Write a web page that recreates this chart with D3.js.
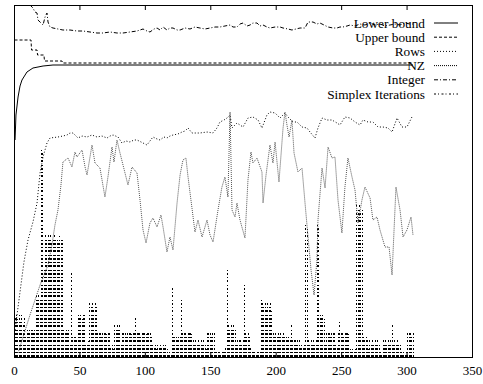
<!DOCTYPE html>
<html>
<head>
<meta charset="utf-8">
<script src="https://cdn.jsdelivr.net/npm/d3@7"></script>
<style>
  body { margin: 0; background: #fff; }
  svg { display: block; font-family: "Liberation Serif", "DejaVu Serif", serif; }
</style>
</head>
<body>
<svg id="main-svg" width="483" height="384"></svg>
<script>
// x ticks along the bottom
const xTicks = [0, 50, 100, 150, 200, 250, 300, 350];

// series as [node, level] pairs (no y scale is printed on the chart)
const lowerBound = [
    [0.8, 217], [1.5, 242], [3.1, 260], [4.6, 271], [6.1, 277], [9.9, 285], [14.5, 289],
    [22.2, 291], [29.8, 292], [40.5, 292], [81, 292], [142, 292], [218.6, 292], [304.9, 292]
];

const upperBound = [
    [0.4, 317], [13.0, 317], [13.4, 307], [17.6, 307], [18.0, 302], [22.9, 302],
    [23.3, 296], [36.7, 296], [37.1, 294], [304.9, 294]
];

const rows = [
    [0.8, 27], [2.3, 42], [4.6, 65], [7.6, 95], [10.7, 117], [14.5, 135], [17.6, 154],
    [19.9, 184], [22.2, 200], [25.2, 214], [27.5, 219], [33.6, 220], [37.4, 221], [40.5, 222],
    [42.8, 224], [45.1, 224], [48.9, 219], [52.0, 221], [55.8, 220], [59.6, 222], [63.4, 220],
    [67.2, 221], [71.1, 219], [73.4, 221], [75.7, 222], [79.5, 220], [82.5, 214], [85.6, 216],
    [88.6, 215], [91.7, 217], [94.0, 217], [97.1, 215], [101.6, 212], [103.9, 216], [106.2, 220],
    [109.3, 218], [111.6, 217], [114.6, 220], [116.9, 219], [119.2, 221], [121.5, 222],
    [125.3, 223], [128.4, 225], [130.7, 226], [133.0, 229], [136.0, 224], [139.1, 224],
    [142.1, 224], [147.5, 225], [152.1, 224], [155.1, 229], [157.4, 235], [160.5, 237],
    [162.8, 239], [165.1, 242], [166.6, 229], [170.4, 234], [175.0, 230], [178.8, 239],
    [182.6, 240], [186.5, 237], [189.5, 229], [193.3, 242], [195.6, 245], [199.5, 244],
    [203.3, 239], [207.1, 244], [209.4, 240], [213.2, 235], [216.3, 235], [220.1, 230],
    [223.9, 229], [226.2, 225], [230.0, 219], [232.3, 229], [235.4, 239], [239.2, 237],
    [243.0, 237], [246.8, 234], [249.1, 232], [252.9, 240], [256.8, 239], [260.6, 235],
    [264.4, 232], [266.7, 237], [270.5, 235], [274.3, 235], [278.2, 230], [282.0, 230],
    [285.8, 229], [288.9, 225], [292.7, 239], [296.5, 230], [300.3, 230], [304.1, 240]
];

const nz = [
    [3.1, 4], [12.2, 42], [19.9, 72], [26.0, 92], [29.0, 112], [31.3, 132], [33.6, 147],
    [35.9, 172], [37.4, 195], [41.3, 199], [44.3, 190], [46.6, 205], [48.1, 200], [52.0, 207],
    [54.3, 190], [55.8, 182], [59.6, 212], [61.9, 194], [65.7, 189], [69.5, 160], [71.8, 180],
    [74.9, 210], [76.4, 195], [78.7, 217], [81.0, 204], [83.3, 192], [87.1, 172], [90.2, 190],
    [94.0, 184], [96.3, 157], [98.6, 127], [100.9, 114], [103.9, 134], [106.2, 139],
    [109.3, 130], [112.3, 142], [113.9, 130], [116.9, 105], [119.2, 120], [121.5, 107],
    [124.6, 154], [126.9, 182], [129.1, 197], [131.4, 199], [133.0, 180], [136.0, 149],
    [138.3, 125], [140.6, 137], [143.7, 120], [147.5, 137], [149.8, 122], [152.1, 115],
    [155.9, 147], [158.9, 170], [161.2, 180], [163.5, 160], [165.1, 245], [166.6, 147],
    [168.9, 140], [170.4, 154], [172.7, 137], [176.5, 119], [178.8, 177], [181.1, 205],
    [182.6, 194], [185.7, 199], [189.5, 185], [190.3, 154], [192.6, 182], [195.6, 212],
    [197.9, 194], [199.5, 215], [202.5, 175], [205.6, 229], [207.1, 245], [208.6, 232],
    [210.2, 220], [212.4, 237], [214.0, 204], [217.0, 185], [220.1, 189], [222.4, 154],
    [224.7, 120], [227.0, 87], [229.3, 62], [231.5, 97], [232.3, 137], [235.4, 189],
    [237.7, 169], [240.0, 210], [243.0, 199], [245.3, 200], [247.6, 157], [250.6, 124],
    [252.9, 170], [255.2, 199], [258.3, 180], [260.6, 167], [262.9, 134], [265.9, 157],
    [268.2, 170], [272.1, 159], [274.3, 137], [277.4, 140], [279.7, 127], [283.5, 110],
    [286.6, 110], [288.9, 82], [291.9, 170], [295.0, 147], [297.3, 120], [300.3, 127],
    [303.4, 140], [304.9, 122]
];

const integer = [
    [9.2, 360], [10.7, 354], [12.2, 352], [14.5, 349], [16.0, 345], [17.6, 344], [18.3, 337],
    [19.9, 335], [22.2, 332], [23.7, 340], [25.2, 344], [26.0, 335], [27.5, 330], [29.8, 329],
    [33.6, 328], [37.4, 327], [42.8, 327], [48.1, 326], [52.7, 326], [58.1, 325], [63.4, 324],
    [68.0, 324], [73.4, 325], [78.7, 324], [83.3, 324], [88.6, 325], [94.0, 326], [98.6, 328],
    [101.6, 326], [103.9, 325], [107.0, 328], [109.3, 329], [111.6, 327], [113.9, 330],
    [116.9, 327], [119.2, 329], [121.5, 329], [124.6, 327], [126.9, 327], [130.7, 329],
    [134.5, 328], [138.3, 330], [142.1, 329], [146.0, 328], [149.8, 329], [153.6, 330],
    [157.4, 330], [161.2, 331], [165.1, 332], [167.4, 330], [170.4, 330], [172.7, 333],
    [175.0, 334], [178.1, 331], [180.4, 332], [182.6, 334], [185.7, 334], [188.0, 331],
    [190.3, 332], [193.3, 330], [195.6, 329], [199.5, 330], [203.3, 330], [205.6, 329],
    [209.4, 328], [212.4, 327], [215.5, 328], [218.6, 329], [222.4, 329], [224.7, 335],
    [228.5, 335], [231.5, 333], [233.8, 334], [236.9, 332], [240.0, 330], [243.8, 329],
    [246.8, 329], [249.1, 330], [251.4, 330], [254.5, 331], [256.8, 332], [260.6, 331],
    [264.4, 333], [268.2, 332], [272.1, 334], [275.9, 332], [279.7, 333], [283.5, 331],
    [287.3, 332], [291.2, 333], [295.0, 332], [298.8, 334], [302.6, 333], [304.9, 333]
];

// simplex iterations per node, index = node 0..305
const simplexIter = [
    10, 40, 44, 38, 42, 36, 44, 34, 40, 20,
    28, 26, 28, 30, 28, 24, 28, 62, 58, 64,
    60, 209, 205, 90, 122, 118, 124, 120, 122, 116,
    119, 122, 118, 120, 116, 121, 119, 120, 27, 25,
    28, 24, 27, 12, 84, 22, 20, 22, 18, 44,
    40, 44, 38, 44, 42, 15, 12, 16, 54, 50,
    54, 48, 54, 52, 25, 24, 26, 22, 25, 24,
    26, 23, 25, 24, 10, 12, 8, 34, 30, 34,
    28, 32, 15, 25, 24, 26, 22, 25, 24, 26,
    23, 25, 24, 40, 25, 24, 26, 22, 25, 24,
    26, 23, 25, 24, 26, 22, 12, 10, 12, 8,
    12, 10, 12, 9, 12, 10, 12, 8, 4, 6,
    4, 69, 22, 20, 22, 18, 22, 20, 60, 25,
    24, 26, 22, 25, 24, 26, 23, 17, 15, 17,
    14, 17, 15, 17, 14, 17, 15, 8, 26, 24,
    26, 22, 26, 24, 6, 7, 5, 7, 4, 7,
    5, 7, 10, 89, 34, 30, 34, 28, 34, 30,
    12, 19, 17, 19, 15, 19, 72, 25, 22, 25,
    20, 10, 7, 5, 7, 4, 7, 5, 7, 59,
    54, 50, 54, 48, 54, 50, 54, 46, 24, 22,
    24, 20, 24, 22, 24, 20, 24, 22, 20, 18,
    20, 17, 34, 19, 17, 19, 15, 19, 17, 10,
    12, 10, 12, 132, 128, 17, 15, 17, 14, 17,
    15, 17, 134, 130, 44, 40, 44, 38, 15, 25,
    24, 26, 22, 25, 24, 26, 12, 10, 25, 37,
    24, 25, 22, 25, 24, 26, 23, 8, 6, 8,
    5, 8, 152, 148, 152, 145, 150, 20, 18, 20,
    17, 8, 17, 15, 17, 14, 17, 15, 17, 14,
    6, 4, 17, 15, 17, 14, 17, 15, 17, 34,
    14, 17, 15, 17, 14, 15, 5, 4, 5, 3,
    5, 25, 24, 26, 22, 25
];

const legendLabels = ['Lower bound', 'Upper bound', 'Rows', 'NZ', 'Integer', 'Simplex Iterations'];
const legendDash = ['none', '3,2', '1,2', '1,1', '4,2,1,2', '2,2,1,2.5'];

const svg = d3.select('#main-svg');
const plotLeft = 14, plotRight = 472, plotTop = 5, plotBottom = 357;

const x = d3.scaleLinear().domain([0, 350]).range([plotLeft, plotRight]);
const y = d3.scaleLinear().domain([0, 352]).range([plotBottom, plotTop]);

svg.append('clipPath')
    .attr('id', 'plot-clip')
    .append('rect')
    .attr('x', plotLeft)
    .attr('y', plotTop)
    .attr('width', plotRight - plotLeft)
    .attr('height', plotBottom - plotTop);

const plot = svg.append('g').attr('clip-path', 'url(#plot-clip)');

// impulses for simplex iterations, drawn bottom up so dashes line up
plot.selectAll('.impulse')
    .data(simplexIter)
    .enter()
    .append('line')
    .attr('class', 'impulse')
    .attr('x1', (d, i) => x(i))
    .attr('x2', (d, i) => x(i))
    .attr('y1', y(0))
    .attr('y2', d => y(d))
    .attr('stroke', '#000')
    .attr('stroke-width', 1)
    .attr('shape-rendering', 'crispEdges')
    .attr('stroke-dasharray', legendDash[5]);

const line = d3.line().x(d => x(d[0])).y(d => y(d[1]));

const series = [
    { data: lowerBound, dash: legendDash[0], color: '#000' },
    { data: upperBound, dash: legendDash[1], color: '#000' },
    { data: rows, dash: legendDash[2], color: '#000' },
    { data: nz, dash: legendDash[3], color: '#555' },
    { data: integer, dash: legendDash[4], color: '#000' }
];

plot.selectAll('.series')
    .data(series)
    .enter()
    .append('path')
    .attr('class', 'series')
    .attr('d', d => line(d.data))
    .attr('fill', 'none')
    .attr('stroke', d => d.color)
    .attr('stroke-width', 1)
    .attr('stroke-dasharray', d => d.dash);

// axes: ticks pointing inward, labels only at the bottom
const xAxis = svg.append('g')
    .attr('transform', `translate(0, ${plotBottom})`)
    .call(d3.axisBottom(x).tickValues(xTicks).tickSize(-5).tickPadding(9));
xAxis.select('.domain').remove();
xAxis.selectAll('text')
    .attr('font-size', 13)
    .attr('font-family', '"Liberation Serif", serif')
    .attr('fill', '#000');

const topAxis = svg.append('g')
    .attr('transform', `translate(0, ${plotTop})`)
    .call(d3.axisTop(x).tickValues(xTicks).tickSize(-5).tickFormat(''));
topAxis.select('.domain').remove();

svg.append('rect')
    .attr('x', plotLeft)
    .attr('y', plotTop)
    .attr('width', plotRight - plotLeft)
    .attr('height', plotBottom - plotTop)
    .attr('fill', 'none')
    .attr('stroke', '#000')
    .attr('stroke-width', 1)
    .attr('shape-rendering', 'crispEdges');

// legend at the top right
const legend = svg.append('g')
    .selectAll('.legend-item')
    .data(legendLabels)
    .enter()
    .append('g')
    .attr('class', 'legend-item')
    .attr('transform', (d, i) => `translate(0, ${23 + i * 14.2})`);

legend.append('text')
    .attr('x', 425)
    .attr('y', 4.5)
    .attr('text-anchor', 'end')
    .attr('font-size', 13.3)
    .attr('fill', '#000')
    .text(d => d);

legend.append('line')
    .attr('x1', 434)
    .attr('x2', 458)
    .attr('y1', 0)
    .attr('y2', 0)
    .attr('stroke', '#000')
    .attr('stroke-width', 1)
    .attr('stroke-dasharray', (d, i) => legendDash[i]);
</script>
</body>
</html>
